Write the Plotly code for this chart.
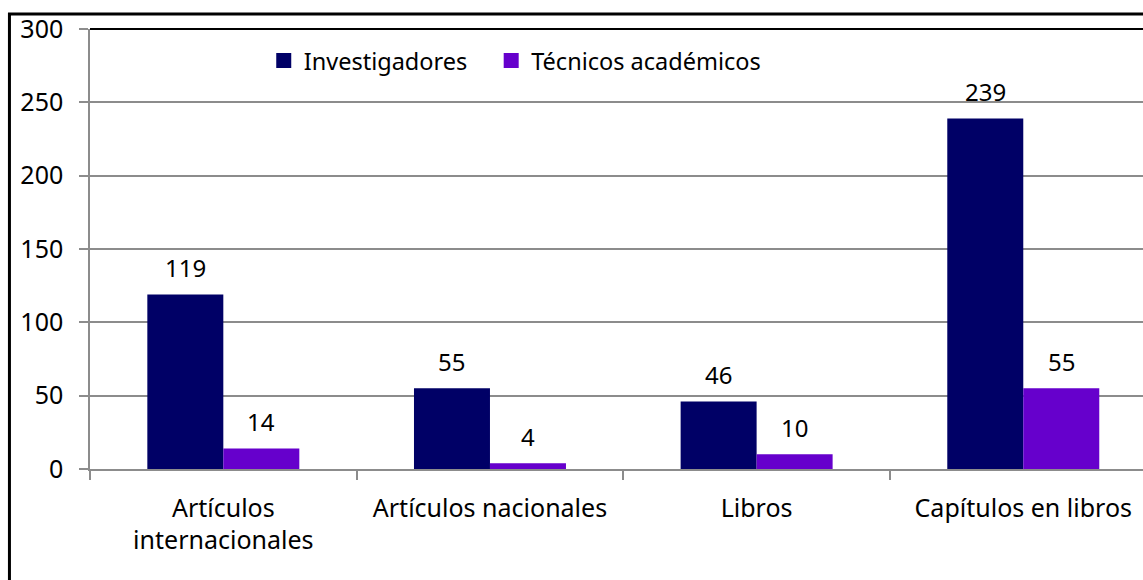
import plotly.graph_objects as go

categories = ["Artículos<br>internacionales", "Artículos nacionales", "Libros", "Capítulos en libros"]
investigadores = [119, 55, 46, 239]
tecnicos = [14, 4, 10, 55]
y_ticks = [0, 50, 100, 150, 200, 250, 300]

NAVY = "#000066"
PURPLE = "#6600CC"
GRID = "#8c8c8c"
FONT = "Noto Sans"

fig = go.Figure()
fig.add_trace(go.Bar(x=categories, y=investigadores, name="Investigadores",
                     marker=dict(color=NAVY, line=dict(width=0)), showlegend=False))
fig.add_trace(go.Bar(x=categories, y=tecnicos, name="Técnicos académicos",
                     marker=dict(color=PURPLE, line=dict(width=0)), showlegend=False))

# legend entries with bigger square swatches, each in its own legend box
for name, color, leg in (("Investigadores", NAVY, "legend"),
                         ("Técnicos académicos", PURPLE, "legend2")):
    fig.add_trace(go.Scatter(x=[None], y=[None], mode="markers", name=name,
                             legend=leg,
                             marker=dict(symbol="square", size=15, color=color)))

# value labels above each bar
for vals, shift in ((investigadores, -38), (tecnicos, 38)):
    for cat, v in zip(categories, vals):
        fig.add_annotation(x=cat, y=v, text=str(v), showarrow=False,
                           xshift=shift, yshift=27, yanchor="middle",
                           font=dict(family=FONT, size=24, color="black"))

# outer frame and top border of plot area
fig.add_shape(type="rect", xref="paper", yref="paper",
              x0=-0.0765, x1=1.05, y0=-0.5, y1=1.034,
              line=dict(color="black", width=3))
fig.add_shape(type="line", xref="paper", yref="paper",
              x0=0, x1=1, y0=1, y1=1, line=dict(color="black", width=2))

leg_style = dict(orientation="h", y=0.928, xanchor="left", yanchor="middle",
                 itemsizing="trace", font=dict(family=FONT, size=23.5),
                 bgcolor="rgba(0,0,0,0)")

fig.update_layout(
    width=1143, height=580,
    margin=dict(l=90, r=0, t=29, b=111),
    paper_bgcolor="white", plot_bgcolor="white",
    barmode="group", bargap=0.43, bargroupgap=0,
    font=dict(family=FONT, size=25, color="black"),
    legend=dict(x=0.165, **leg_style),
    legend2=dict(x=0.381, **leg_style),
    xaxis=dict(type="category", range=[-0.5, 3.449], showgrid=False,
               showline=True, linecolor=GRID, linewidth=1.5,
               ticks="outside", ticklen=9, tickcolor=GRID, tickwidth=1.5,
               tickson="boundaries", ticklabelstandoff=16,
               tickfont=dict(family=FONT, size=25)),
    yaxis=dict(range=[0, 300], tickvals=y_ticks, showgrid=True,
               gridcolor=GRID, gridwidth=1.5, zeroline=False,
               showline=True, linecolor=GRID, linewidth=1.5,
               ticks="outside", ticklen=9, tickcolor=GRID, tickwidth=1.5,
               ticklabelstandoff=11, tickfont=dict(family=FONT, size=25)),
)

fig.write_html("out.html", config={"displayModeBar": False},
               post_script="document.body.style.margin='0';")
